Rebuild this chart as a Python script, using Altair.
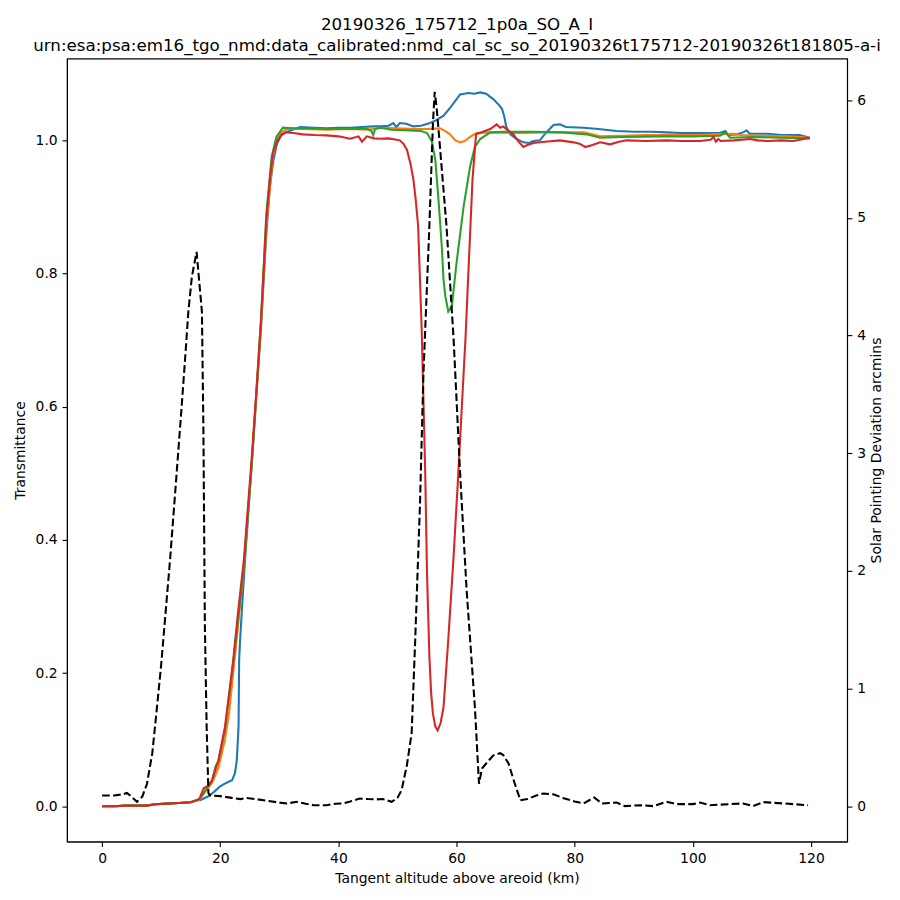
import altair as alt
import pandas as pd

# ---------------- data ----------------
early_x = [0, 2, 4, 6, 7.5, 9, 11, 13, 15, 16]
early_y = [0.000, 0.000, 0.001, 0.001, 0.001, 0.003, 0.004, 0.005, 0.006, 0.009]

blue_x = early_x + [16.6, 18, 19, 20, 21, 22, 22.5, 22.8, 23.1, 23.2, 23.4, 23.7, 24.2, 25.3, 26.9, 27.8,
                    28.4, 29, 29.6, 30.3, 31, 32, 33.5, 36, 38, 40, 42, 44, 46, 47.1, 48.5, 49.3, 49.8,
                    50.4, 51.5, 52.7, 54, 55.5, 56.5, 57.8, 59, 60.6, 62, 63, 64, 65, 66.2, 67.2, 67.7,
                    68.1, 68.4, 69.1, 70, 71.3, 72.3, 73, 74.1, 75, 76.4, 77.5, 78.5, 81.5, 84, 87.1, 90,
                    93, 95.6, 98, 101, 104.6, 105.5, 106, 107.5, 108.5, 109.1, 109.6, 112.6, 115, 118.1,
                    119.8]
blue_y = early_y + [0.009, 0.015, 0.022, 0.030, 0.035, 0.039, 0.050, 0.069, 0.120, 0.220, 0.255, 0.300,
                    0.370, 0.510, 0.720, 0.860, 0.930, 0.970, 0.995, 1.007, 1.012, 1.015, 1.020, 1.019,
                    1.018, 1.019, 1.019, 1.020, 1.021, 1.021, 1.022, 1.026, 1.020, 1.026, 1.025, 1.021,
                    1.022, 1.026, 1.030, 1.037, 1.050, 1.069, 1.071, 1.070, 1.072, 1.070, 1.062, 1.053,
                    1.047, 1.035, 1.021, 1.009, 1.003, 0.997, 0.996, 0.999, 1.000, 1.010, 1.023, 1.024,
                    1.020, 1.019, 1.017, 1.014, 1.013, 1.013, 1.012, 1.011, 1.011, 1.011, 1.014, 1.008,
                    1.009, 1.012, 1.015, 1.010, 1.010, 1.008, 1.008, 1.004]

orange_x = early_x + [16.5, 17.5, 18.6, 19.7, 20.8, 21.5, 22.2, 23, 24, 25.3, 26.9, 27.8, 28.9, 29.7, 30.5,
                      31.5, 34, 38, 42, 45, 47.1, 50, 53, 55, 57.2, 58.1, 58.9, 59.8, 60.6, 61.4, 62.4,
                      63.4, 66, 69.6, 71.3, 75, 78, 81.5, 83, 84.3, 88, 92, 96, 101.2, 104, 106.9, 108,
                      112, 116, 119.8]
orange_y = early_y + [0.010, 0.022, 0.035, 0.058, 0.100, 0.140, 0.200, 0.270, 0.360, 0.510, 0.720, 0.870,
                      0.975, 1.003, 1.013, 1.018, 1.017, 1.016, 1.017, 1.016, 1.019, 1.018, 1.017, 1.017,
                      1.018, 1.014, 1.009, 1.000, 0.997, 0.999, 1.006, 1.011, 1.012, 1.011, 1.011, 1.012,
                      1.012, 1.012, 1.009, 1.006, 1.007, 1.008, 1.008, 1.008, 1.009, 1.010, 1.008, 1.007,
                      1.006, 1.004]

green_x = early_x + [16.5, 17.5, 18.6, 19.2, 19.7, 20.8, 22.2, 24, 25.3, 26.9, 27.8, 28.7, 29.5, 30.6, 32,
                     35, 38, 42, 45, 45.6, 45.9, 46.2, 47.1, 49, 52, 54, 55, 55.8, 56.4, 56.9, 57.5, 57.8,
                     58.1, 58.6, 59.2, 60, 61.2, 62.3, 63.1, 64, 65.7, 68, 73, 78, 82, 84.3, 88, 95, 100,
                     104.6, 105.5, 106.3, 110, 115, 119.8]
green_y = early_y + [0.011, 0.024, 0.038, 0.060, 0.068, 0.115, 0.215, 0.360, 0.510, 0.730, 0.890, 0.975,
                     1.005, 1.019, 1.018, 1.018, 1.017, 1.017, 1.017, 1.014, 1.008, 1.017, 1.019, 1.016,
                     1.015, 1.014, 1.011, 0.999, 0.971, 0.916, 0.841, 0.790, 0.766, 0.743, 0.751, 0.816,
                     0.901, 0.961, 0.990, 1.002, 1.012, 1.013, 1.013, 1.012, 1.009, 1.004, 1.005, 1.006,
                     1.006, 1.007, 1.012, 1.004, 1.005, 1.004, 1.003]

red_x = early_x + [16.5, 17.2, 18.0, 18.6, 19.7, 20.8, 22.2, 23, 24, 25.3, 26.1, 26.9, 27.8, 28.4, 28.9, 29.7,
                   30.4, 31.3, 32.4, 34, 36, 38, 40, 42, 43.4, 44.0, 44.8, 46, 47.1, 48.5, 50.4, 51.0, 51.6,
                   52.2, 52.7, 53.1, 53.5, 54.1, 54.7, 55.0, 55.4, 55.7, 56.0, 56.4, 56.8, 57.3, 57.8, 58.6,
                   59.5, 60.3, 61.2, 61.5, 62.2, 62.7, 63.3, 64.5, 65.7, 66.8, 67.4, 67.9, 68.7, 69.6, 70.5,
                   71.3, 72, 73, 75, 77.5, 79.8, 80.8, 81.8, 83, 84.3, 86, 87.5, 88.8, 92, 95.6, 98, 101.2,
                   103, 103.5, 103.9, 104.3, 104.7, 107, 109.7, 111, 112.6, 115, 117, 118.1, 119.8]
red_y = early_y + [0.012, 0.027, 0.031, 0.039, 0.069, 0.119, 0.220, 0.290, 0.370, 0.520, 0.620, 0.730, 0.880,
                   0.940, 0.980, 1.000, 1.009, 1.012, 1.011, 1.009, 1.008, 1.0075, 1.006, 1.0025, 1.006,
                   0.998, 1.006, 1.003, 1.0025, 1.003, 1.000, 0.995, 0.986, 0.965, 0.941, 0.910, 0.871,
                   0.716, 0.500, 0.350, 0.225, 0.170, 0.139, 0.120, 0.114, 0.125, 0.149, 0.250, 0.375,
                   0.500, 0.651, 0.700, 0.841, 0.941, 1.009, 1.013, 1.017, 1.024, 1.019, 1.021, 1.015,
                   1.009, 0.998, 0.990, 0.993, 0.996, 0.998, 1.000, 0.997, 0.995, 0.990, 0.993, 0.997,
                   0.994, 0.998, 1.000, 0.999, 1.000, 0.999, 0.999, 1.001, 1.005, 0.998, 1.002, 0.999,
                   1.000, 1.002, 1.000, 0.999, 1.000, 0.999, 1.001, 1.004]

dev_x = [0, 2, 3.5, 4.2, 5, 5.9, 6.8, 7.6, 8.5, 9.25, 10, 11.5, 12.5, 13.4, 14.05, 14.6, 15.2, 16.0, 16.9,
         17.15, 17.4, 17.7, 18.0, 18.3, 20, 22, 23.4, 24.4, 26, 28, 30, 31.3, 33, 34.5, 35.8, 38, 39.5, 40.8,
         42, 43.6, 45, 46.4, 47.5, 49.0, 50.0, 50.7, 51.6, 52.4, 53.0, 53.8, 54.4, 55.4, 56.0, 56.3, 56.6,
         56.9, 58.3, 59.5, 60.6, 61.7, 63.1, 63.8, 64.3, 65.3, 66.2, 67.4, 67.9, 68.8, 69.8, 70.8, 72, 73.5,
         74.7, 76.4, 78, 80, 81.5, 83.3, 84.6, 87.1, 88.5, 91, 93.3, 95.5, 97.2, 100, 101.2, 102.9, 108.5,
         110.2, 111.9, 115.3, 119.5]
dev_y = [0.09, 0.09, 0.10, 0.113, 0.08, 0.037, 0.08, 0.19, 0.45, 0.82, 1.20, 2.09, 2.75, 3.35, 3.80, 4.20,
         4.50, 4.71, 4.20, 3.20, 1.53, 0.675, 0.11, 0.09, 0.085, 0.07, 0.06, 0.07, 0.06, 0.045, 0.03, 0.023,
         0.037, 0.02, 0.008, 0.008, 0.02, 0.023, 0.04, 0.065, 0.06, 0.057, 0.06, 0.037, 0.07, 0.136, 0.35,
         0.62, 1.41, 2.55, 3.68, 4.93, 5.80, 6.07, 5.95, 5.78, 4.93, 3.97, 2.83, 1.84, 0.845, 0.19, 0.32,
         0.38, 0.43, 0.45, 0.434, 0.363, 0.20, 0.05, 0.06, 0.09, 0.108, 0.10, 0.07, 0.04, 0.023, 0.074,
         0.023, 0.03, 0.0, 0.008, 0.0, 0.037, 0.017, 0.017, 0.03, 0.008, 0.023, 0.0, 0.034, 0.023, 0.008]

title_lines = ["20190326_175712_1p0a_SO_A_I",
               "urn:esa:psa:em16_tgo_nmd:data_calibrated:nmd_cal_sc_so_20190326t175712-20190326t181805-a-i"]

# ---------------- chart ----------------
FONT = "DejaVu Sans"
xscale = alt.Scale(domain=[-5.95, 126.1], nice=False, zero=False)
yscale = alt.Scale(domain=[-0.053, 1.123], nice=False, zero=False)
y2scale = alt.Scale(domain=[-0.301, 6.354], nice=False, zero=False)

xaxis = alt.Axis(title="Tangent altitude above areoid (km)", values=[0, 20, 40, 60, 80, 100, 120],
                 format="d", titlePadding=6, orient="bottom")
yaxis = alt.Axis(title="Transmittance", values=[0.0, 0.2, 0.4, 0.6, 0.8, 1.0], format=".1f",
                 titlePadding=8, orient="left")
y2axis = alt.Axis(title="Solar Pointing Deviation arcmins", values=[0, 1, 2, 3, 4, 5, 6], format="d",
                  orient="right", titlePadding=4, titleAngle=270, titleBaseline="top")


def trans_layer(xs, ys, color):
    df = pd.DataFrame({"x": xs, "y": ys})
    return alt.Chart(df).mark_line(color=color, strokeWidth=2.08, clip=True).encode(
        x=alt.X("x:Q", scale=xscale, axis=xaxis),
        y=alt.Y("y:Q", scale=yscale, axis=yaxis),
        order="x:Q",
    )


left = alt.layer(
    trans_layer(blue_x, blue_y, "#1f77b4"),
    trans_layer(orange_x, orange_y, "#ff7f0e"),
    trans_layer(green_x, green_y, "#2ca02c"),
    trans_layer(red_x, red_y, "#d62728"),
)

dev_df = pd.DataFrame({"x": dev_x, "y": dev_y})
right = alt.Chart(dev_df).mark_line(color="black", strokeWidth=2.08, strokeDash=[7.7, 3.3], clip=True).encode(
    x=alt.X("x:Q", scale=xscale, axis=xaxis),
    y=alt.Y("y:Q", scale=y2scale, axis=y2axis),
    order="x:Q",
)

chart = alt.layer(left, right).resolve_scale(y="independent").properties(
    width=781,
    height=784,
    autosize=alt.AutoSizeParams(type="none"),
    padding={"left": 59, "top": 50, "right": 45, "bottom": 50},
    title=alt.TitleParams(text=title_lines, fontSize=16.7, font=FONT, fontWeight="normal",
                          color="black", anchor="middle", lineHeight=21, offset=4),
).configure_view(
    stroke="black", strokeWidth=1.1
).configure_axis(
    grid=False,
    domainColor="black", domainWidth=1.1,
    tickColor="black", tickWidth=1.1, tickSize=4.9,
    labelColor="black", labelFont=FONT, labelFontSize=13.9, labelPadding=4.9,
    titleColor="black", titleFont=FONT, titleFontSize=13.9, titleFontWeight="normal",
)

chart.save("out.html", embed_options={"renderer": "svg", "actions": False})
